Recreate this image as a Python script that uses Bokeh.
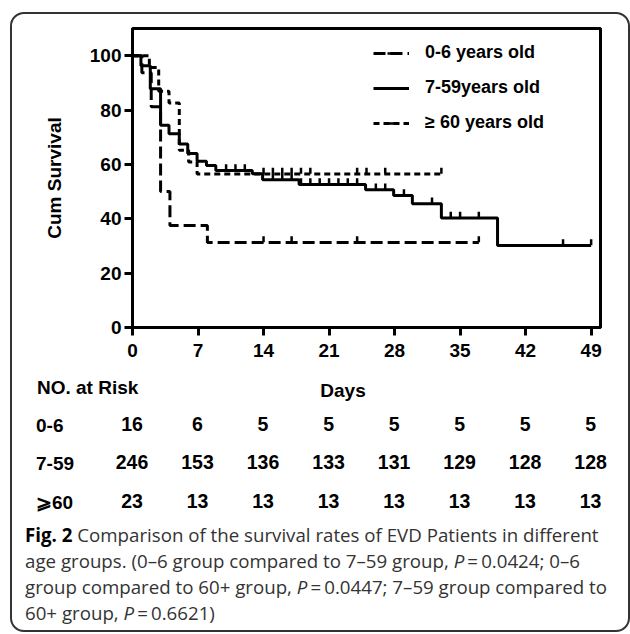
import numpy as np
from bokeh.plotting import figure
from bokeh.layouts import column
from bokeh.models import Range1d, FixedTicker, Legend, LegendItem, Div
from bokeh.embed import file_html
from bokeh.resources import INLINE

# ---------------- data ----------------
# Kaplan-Meier steps (day, cumulative survival %)
t_06 = [0, 1, 2, 3, 4, 8, 37]
s_06 = [100, 93.75, 81.25, 50, 37.5, 31.25, 31.25]
c_06 = [14, 17, 24, 37]

t_759 = [0, 0.9, 1.9, 3, 3.9, 5, 5.9, 6.9, 7.9, 8.9, 12.8, 13.9, 17.8, 24.9, 27.9, 29.9, 33, 39, 49]
s_759 = [100, 96.3, 87.8, 74.4, 71.3, 67.5, 64.0, 61.2, 59.6, 57.8, 56.6, 54.4, 52.6, 50.7, 48.6, 45.5, 40.3, 30.2, 30.2]
c_759 = [10, 11, 12, 15, 16, 17, 18, 19, 20, 21, 22, 23, 24, 26, 27, 29, 32, 34, 35, 37, 46, 49]

t_60 = [0, 1.8, 2.8, 3.9, 5, 6, 6.9, 33]
s_60 = [100, 95.65, 86.96, 82.6, 65.2, 60.9, 56.5, 56.5]
c_60 = [14, 15, 16, 17, 18, 19, 24, 25, 27, 33]

x_ticks = [0, 7, 14, 21, 28, 35, 42, 49]
y_ticks = [0, 20, 40, 60, 80, 100]

groups = ["0-6", "7-59", "\u2A7E60"]
legend_labels = ["0-6 years old", "7-59years old", "\u2265 60 years old"]
risk_06 = [16, 6, 5, 5, 5, 5, 5, 5]
risk_759 = [246, 153, 136, 133, 131, 129, 128, 128]
risk_60 = [23, 13, 13, 13, 13, 13, 13, 13]

caption_lines = [
    "<b style='color:#000'>Fig. 2</b> Comparison of the survival rates of EVD Patients in different",
    "age groups. (0\u20136 group compared to 7\u201359 group, <i>P</i>\u2009=\u20090.0424; 0\u20136",
    "group compared to 60+ group, <i>P</i>\u2009=\u20090.0447; 7\u201359 group compared to",
    "60+ group, <i>P</i>\u2009=\u20090.6621)",
]

# ---------------- layout constants (page pixels) ----------------
PX_PER_DAY = 9.36
FRAME_L, FRAME_T, FRAME_W, FRAME_H = 132, 28, 468, 299
ORG_X, ORG_Y = 12, 14          # content origin inside the rounded border
W = 616
H1 = 357
TOP2 = ORG_Y + H1
H2 = 630 - TOP2

# ---------------- chart ----------------
p = figure(width=W, height=H1, output_backend="svg", toolbar_location=None,
           x_range=Range1d(0, FRAME_W / PX_PER_DAY), y_range=Range1d(0, 110),
           min_border_left=FRAME_L - ORG_X, min_border_right=W - (FRAME_L - ORG_X) - FRAME_W,
           min_border_top=FRAME_T - ORG_Y, min_border_bottom=H1 - (FRAME_T - ORG_Y) - FRAME_H)
p.xgrid.visible = False
p.ygrid.visible = False
p.outline_line_color = "black"
p.outline_line_width = 3
p.background_fill_color = None
p.border_fill_color = None

for ax in (p.xaxis[0], p.yaxis[0]):
    ax.axis_line_width = 3
    ax.axis_line_color = "black"
    ax.major_tick_line_width = 3
    ax.major_tick_out = 8
    ax.major_tick_in = 0
    ax.minor_tick_line_color = None
    ax.major_label_text_font = "Liberation Sans"
    ax.major_label_text_font_style = "bold"
    ax.major_label_text_font_size = "19px"
    ax.major_label_text_color = "black"
p.xaxis.ticker = FixedTicker(ticks=x_ticks)
p.yaxis.ticker = FixedTicker(ticks=y_ticks)
p.xaxis.major_label_standoff = 8
p.yaxis.major_label_standoff = 3
p.yaxis.axis_label = "Cum Survival"
p.yaxis.axis_label_text_font = "Liberation Sans"
p.yaxis.axis_label_text_font_style = "bold"
p.yaxis.axis_label_text_font_size = "19px"
p.yaxis.axis_label_text_color = "black"
p.yaxis.axis_label_standoff = 22

def tick_y(ts, ss, cs):
    ts = np.asarray(ts, float); ss = np.asarray(ss, float)
    idx = np.searchsorted(ts, np.asarray(cs, float), side="right") - 1
    return ss[idx] + 1.2

items = []
specs = [(t_06, s_06, c_06, "12 5"), (t_759, s_759, c_759, "solid"), (t_60, s_60, c_60, "6 4")]
for (ts, ss, cs, dash), lab in zip(specs, legend_labels):
    r1 = p.step(x=ts, y=ss, mode="after", line_width=3, line_color="black", line_dash=dash)
    r2 = p.scatter(x=cs, y=tick_y(ts, ss, cs), marker="dash", angle=np.pi / 2, size=6,
                   line_color="black", line_width=2.5)
    items.append(LegendItem(label=lab, renderers=[r1, r2]))

legend = Legend(items=items, location=(241, 194), orientation="vertical",
                border_line_alpha=0, background_fill_alpha=0, padding=0, margin=0,
                glyph_width=36, glyph_height=20, label_height=20, spacing=14,
                label_standoff=16, label_text_font="Liberation Sans",
                label_text_font_style="bold", label_text_font_size="18px",
                label_text_color="black")
p.add_layout(legend, "center")

# ---------------- risk table + caption (HTML text) ----------------
def day_to_page_x(d):
    return FRAME_L + d * PX_PER_DAY

def span(px, py, txt, align="left", size=19, font="Liberation Sans", weight="bold"):
    tx = {"left": "0", "center": "-50%", "right": "-100%"}[align]
    return (f"<span style=\"position:absolute;left:{px - ORG_X:.1f}px;top:{py - TOP2:.1f}px;"
            f"transform:translate({tx},-50%);font-family:'{font}';font-size:{size}px;"
            f"font-weight:{weight};color:#000;white-space:nowrap;line-height:1;\">{txt}</span>")

parts = [span(343, 390, "Days", "center"), span(37, 387, "NO. at Risk", "left")]
row_y = [425, 463, 502]
for g, vals, ry in zip(groups, [risk_06, risk_759, risk_60], row_y):
    parts.append(span(36, ry, g, "left"))
    for d, v in zip(x_ticks, vals):
        parts.append(span(day_to_page_x(d), ry, str(v), "center", size=19.5))

cap_top = 522
parts.append(
    f"<div style=\"position:absolute;left:{25 - ORG_X}px;top:{cap_top - TOP2}px;"
    f"font-family:'Open Sans';font-size:18.7px;line-height:26px;color:#333;white-space:nowrap;\">"
    + "<br>".join(caption_lines) + "</div>")

html = (f"<div style=\"position:relative;width:{W}px;height:{H2}px;overflow:hidden;\">"
        + "".join(parts) + "</div>")
div = Div(text=html, width=W, height=H2, margin=0)

layout = column(p, div, spacing=0, margin=(12, 0, 0, 10),
                styles={"border": "2px solid #333333", "border-radius": "14px"})

open("out.html", "w").write(file_html(layout, INLINE))
